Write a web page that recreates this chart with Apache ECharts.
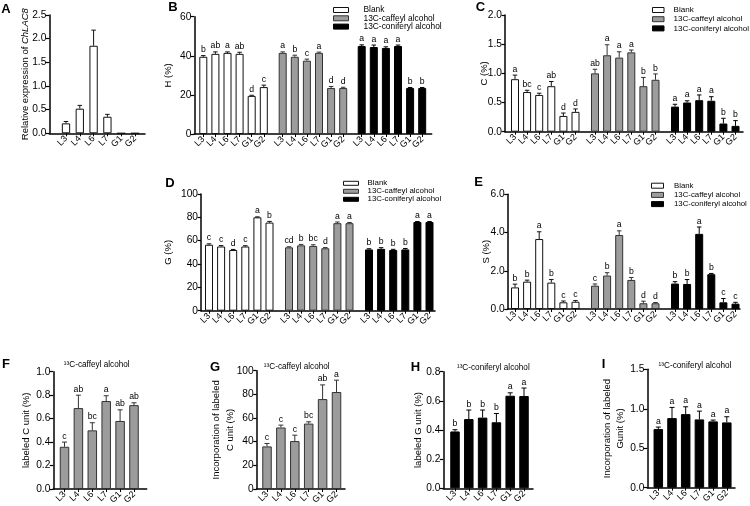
<!DOCTYPE html>
<html><head><meta charset="utf-8">
<script src="https://cdn.jsdelivr.net/npm/echarts@6/dist/echarts.min.js"></script>
<style>html,body{margin:0;padding:0;background:#fff}#c{width:750px;height:506px}</style>
</head><body><div id="c"></div>
<script>
// ---------------- data ----------------
const categories = ['L3','L4','L6','L7','G1','G2'];
const treatments = ['Blank','13C-caffeyl alcohol','13C-coniferyl alcohol'];

// A: relative expression of ChLAC8
const aTicks = ['0.0','0.5','1.0','1.5','2.0','2.5'];
const aMean = [0.21, 0.52, 1.85, 0.35, 0, 0];
const aErr  = [0.04, 0.07, 0.33, 0.05, 0, 0];
const aLetters = ['','','','','',''];

// B: H (%)
const bTicks = ['0','20','40','60'];
const bBlankMean = [39.5, 41, 41.5, 41, 19.5, 24];
const bBlankErr  = [0.6, 1.0, 0.5, 0.8, 0.3, 1.0];
const bBlankLet  = ['b','ab','a','ab','d','c'];
const bCafMean = [41.5, 39.5, 37.5, 41.5, 23.5, 23.5];
const bCafErr  = [0.5, 0.8, 0.8, 0.4, 0.8, 0.4];
const bCafLet  = ['a','b','c','a','d','d'];
const bConMean = [45, 44.5, 44, 45, 23.5, 23.5];
const bConErr  = [0.6, 1.0, 0.6, 0.5, 0.3, 0.3];
const bConLet  = ['a','a','a','a','b','b'];

// C: C (%)
const cTicks = ['0.0','0.5','1.0','1.5','2.0'];
const cBlankMean = [0.90, 0.68, 0.63, 0.78, 0.27, 0.34];
const cBlankErr  = [0.07, 0.03, 0.03, 0.08, 0.05, 0.05];
const cBlankLet  = ['a','bc','c','ab','d','d'];
const cCafMean = [1.00, 1.31, 1.27, 1.36, 0.78, 0.89];
const cCafErr  = [0.07, 0.18, 0.10, 0.04, 0.15, 0.10];
const cCafLet  = ['ab','a','a','a','b','b'];
const cConMean = [0.43, 0.50, 0.54, 0.53, 0.14, 0.10];
const cConErr  = [0.04, 0.03, 0.09, 0.07, 0.09, 0.09];
const cConLet  = ['a','a','a','a','b','b'];

// D: G (%)
const dTicks = ['0','20','40','60','80','100'];
const dBlankMean = [56.5, 55, 52, 55, 80, 75.5];
const dBlankErr  = [0.8, 0.8, 0.5, 0.7, 0.4, 1.0];
const dBlankLet  = ['c','c','d','c','a','b'];
const dCafMean = [54.3, 56, 55.5, 53.5, 75, 75];
const dCafErr  = [0.5, 0.8, 1.0, 0.6, 1.0, 0.6];
const dCafLet  = ['cd','b','bc','d','a','a'];
const dConMean = [52.5, 53, 52, 52.5, 76, 76];
const dConErr  = [0.6, 1.0, 0.6, 0.8, 0.4, 0.4];
const dConLet  = ['b','b','b','b','a','a'];

// E: S (%)
const eTicks = ['0.0','2.0','4.0','6.0'];
const eBlankMean = [1.13, 1.43, 3.66, 1.38, 0.35, 0.38];
const eBlankErr  = [0.17, 0.08, 0.38, 0.16, 0.07, 0.06];
const eBlankLet  = ['b','b','a','b','c','c'];
const eCafMean = [1.22, 1.75, 3.87, 1.52, 0.30, 0.30];
const eCafErr  = [0.09, 0.15, 0.22, 0.13, 0.11, 0.04];
const eCafLet  = ['c','b','a','b','d','d'];
const eConMean = [1.33, 1.31, 3.93, 1.82, 0.35, 0.28];
const eConErr  = [0.10, 0.23, 0.36, 0.04, 0.20, 0.07];
const eConLet  = ['b','b','a','b','c','c'];

// F: labeled C unit (%)
const fTicks = ['0.0','0.2','0.4','0.6','0.8','1.0'];
const fMean = [0.36, 0.69, 0.50, 0.75, 0.58, 0.715];
const fErr  = [0.04, 0.11, 0.065, 0.045, 0.095, 0.02];
const fLet  = ['c','ab','bc','a','ab','ab'];

// G: incorporation of labeled C unit (%)
const gTicks = ['0','20','40','60','80','100'];
const gMean = [36, 52, 40.5, 55.3, 76, 82];
const gErr  = [2.5, 2, 5, 1.5, 12, 10];
const gLet  = ['c','c','c','bc','ab','a'];

// H: labeled G unit (%)
const hTicks = ['0.0','0.2','0.4','0.6','0.8'];
const hMean = [0.39, 0.475, 0.485, 0.453, 0.635, 0.633];
const hErr  = [0.012, 0.062, 0.052, 0.06, 0.02, 0.055];
const hLet  = ['b','b','b','b','a','a'];

// I: incorporation of labeled G unit (%)
const iTicks = ['0.0','0.5','1.0','1.5'];
const iMean = [0.743, 0.882, 0.932, 0.865, 0.84, 0.827];
const iErr  = [0.025, 0.135, 0.093, 0.105, 0.017, 0.072];
const iLet  = ['a','a','a','a','a','a'];

// ---------------- styles ----------------
const FONT = "'Liberation Sans', Arial, Helvetica, sans-serif";
const STY = {
  white: {color:'#ffffff', border:'#111', bw:1, err:'#111'},
  gray:  {color:'#9c9c9c', border:'#333', bw:1, err:'#333'},
  black: {color:'#000000', border:'#000', bw:1, err:'#000'}
};

const grids=[], xAxes=[], yAxes=[], series=[];

function panel(cfg){
  const top = cfg.top, h = cfg.zero - cfg.top;
  const ticks = cfg.ticks;
  const ymin = +ticks[0], ymax = +ticks[ticks.length-1], step = ticks[1]-ticks[0];
  const gi = grids.length;
  const lh = cfg.nameLH || 9.5;
  grids.push({left: cfg.axisX, top: top, width: cfg.xEnd - cfg.axisX, height: h,
    containLabel:false, outerBoundsMode:'none'});
  xAxes.push({gridIndex: gi, type:'value', min:0, max:1,
    axisLine:{show:true, lineStyle:{color:'#000', width:1.5}},
    axisTick:{show:false}, axisLabel:{show:false}, splitLine:{show:false}});
  yAxes.push({gridIndex: gi, type:'value', min:ymin, max:ymax, interval:step,
    axisLine:{show:true, lineStyle:{color:'#000', width:1.5}},
    axisTick:{show:true, length:3.5, lineStyle:{color:'#000', width:1.2}},
    axisLabel:{color:'#000', fontSize:10.2, fontFamily:FONT, margin:3,
      formatter: v => ticks[Math.round((v-ymin)/step)]},
    splitLine:{show:false},
    name: cfg.name, nameLocation:'middle', nameRotate:90, nameGap: cfg.nameGap,
    nameMoveOverlap:false,
    nameTextStyle:{color:'#000', fontSize:9.5, fontFamily:FONT, lineHeight:lh,
      rich:{i:{fontStyle:'italic', fontSize:9.5, fontFamily:FONT, color:'#000', lineHeight:lh}}}});
  cfg.groups.forEach(g => {
    const k = grids.length;
    const st = STY[g.style];
    grids.push({left: g.left, top: top, width: cfg.band*6, height: h,
      containLabel:false, outerBoundsMode:'none'});
    xAxes.push({gridIndex:k, type:'category', data: categories,
      axisLine:{show:false},
      axisTick:{show:true, alignWithLabel:true, length:3, lineStyle:{color:'#000', width:1}},
      axisLabel:{interval:0, rotate:45, fontSize:9, margin:4, color:'#000', fontFamily:FONT},
      splitLine:{show:false}});
    yAxes.push({gridIndex:k, type:'value', min:ymin, max:ymax, show:false});
    series.push({type:'bar', name:g.name, xAxisIndex:k, yAxisIndex:k, data:g.mean,
      barWidth: cfg.barWidth, silent:true,
      itemStyle:{color:st.color, borderColor:st.border, borderWidth:st.bw}});
    series.push({type:'custom', xAxisIndex:k, yAxisIndex:k, silent:true, clip:false, z:5,
      data: g.mean.map((m,i)=>[i, m, g.err[i]]),
      renderItem: (params, api) => {
        const i = api.value(0), m = api.value(1), e = api.value(2);
        const p0 = api.coord([i, m]), p1 = api.coord([i, m+e]);
        const cw = cfg.cap;
        const ch = [];
        if (m > 0) {
          ch.push({type:'line', shape:{x1:p0[0], y1:p0[1], x2:p1[0], y2:p1[1]}, style:{stroke:st.err, lineWidth:1}});
          ch.push({type:'line', shape:{x1:p1[0]-cw/2, y1:p1[1], x2:p1[0]+cw/2, y2:p1[1]}, style:{stroke:st.err, lineWidth:1}});
        }
        const letter = g.letters[params.dataIndex];
        if (letter) ch.push({type:'text', x:p1[0], y:p1[1]-1.3,
          style:{text:letter, fontSize:8.7, fontFamily:FONT, fill:'#000',
            align:'center', verticalAlign:'bottom', textAlign:'center', textVerticalAlign:'bottom'}});
        return {type:'group', children:ch};
      }});
  });
}

panel({axisX:49.3, top:15, zero:133.3, xEnd:145, ticks:aTicks, name:'Relative expression of {i|ChLAC8}', nameGap:19.5,
  band:13.8, barWidth:8.3, cap:4.5,
  groups:[{left:59.1, mean:aMean, err:aErr, letters:aLetters, style:'white', name:'A'}]});
panel({axisX:194.3, top:16.7, zero:134, xEnd:431.7, ticks:bTicks, name:'H (%)', nameGap:21.5,
  band:12.1, barWidth:8, cap:4.5,
  groups:[{left:197.25, mean:bBlankMean, err:bBlankErr, letters:bBlankLet, style:'white', name:treatments[0]},
          {left:276.65, mean:bCafMean, err:bCafErr, letters:bCafLet, style:'gray', name:treatments[1]},
          {left:355.65, mean:bConMean, err:bConErr, letters:bConLet, style:'black', name:treatments[2]}]});
panel({axisX:505, top:15, zero:131.7, xEnd:743, ticks:cTicks, name:'C (%)', nameGap:15.5,
  band:12.1, barWidth:8, cap:4.5,
  groups:[{left:508.95, mean:cBlankMean, err:cBlankErr, letters:cBlankLet, style:'white', name:treatments[0]},
          {left:588.95, mean:cCafMean, err:cCafErr, letters:cCafLet, style:'gray', name:treatments[1]},
          {left:668.95, mean:cConMean, err:cConErr, letters:cConLet, style:'black', name:treatments[2]}]});
panel({axisX:201, top:194, zero:310.7, xEnd:435, ticks:dTicks, name:'G (%)', nameGap:28,
  band:12.1, barWidth:8, cap:4.5,
  groups:[{left:202.95, mean:dBlankMean, err:dBlankErr, letters:dBlankLet, style:'white', name:treatments[0]},
          {left:282.95, mean:dCafMean, err:dCafErr, letters:dCafLet, style:'gray', name:treatments[1]},
          {left:362.95, mean:dConMean, err:dConErr, letters:dConLet, style:'black', name:treatments[2]}]});
panel({axisX:507.7, top:194.3, zero:309, xEnd:740, ticks:eTicks, name:'S (%)', nameGap:16.5,
  band:12.1, barWidth:8, cap:4.5,
  groups:[{left:508.95, mean:eBlankMean, err:eBlankErr, letters:eBlankLet, style:'white', name:treatments[0]},
          {left:588.95, mean:eCafMean, err:eCafErr, letters:eCafLet, style:'gray', name:treatments[1]},
          {left:668.95, mean:eConMean, err:eConErr, letters:eConLet, style:'black', name:treatments[2]}]});
panel({axisX:53.3, top:371.7, zero:489, xEnd:146.7, ticks:fTicks, name:'labeled C unit (%)', nameGap:22,
  band:13.9, barWidth:9.5, cap:5,
  groups:[{left:57.55, mean:fMean, err:fErr, letters:fLet, style:'gray', name:'F'}]});
panel({axisX:256.7, top:370.7, zero:489, xEnd:345, ticks:gTicks, name:'Incorporation of labeled\nC unit (%)', nameGap:20, nameLH:13.3,
  band:13.9, barWidth:9.5, cap:5,
  groups:[{left:260.05, mean:gMean, err:gErr, letters:gLet, style:'gray', name:'G'}]});
panel({axisX:443.3, top:371.7, zero:488.3, xEnd:533, ticks:hTicks, name:'labeled G unit (%)', nameGap:20.3,
  band:13.8, barWidth:9.5, cap:5,
  groups:[{left:448.1, mean:hMean, err:hErr, letters:hLet, style:'black', name:'H'}]});
panel({axisX:647.3, top:369.3, zero:487.7, xEnd:735, ticks:iTicks, name:'Incorporation of labeled\nGunit (%)', nameGap:20.3, nameLH:13.3,
  band:13.7, barWidth:9.5, cap:5,
  groups:[{left:651.45, mean:iMean, err:iErr, letters:iLet, style:'black', name:'I'}]});

function legend(left, top, pitch, iw, ih, pad, fs){
  return {left:left, top:top, orient:'vertical', padding:0, itemGap:0, itemWidth:iw, itemHeight:ih,
    icon:'rect', selectedMode:false,
    textStyle:{fontSize:fs, fontFamily:FONT, color:'#000', lineHeight:pitch, padding:[0,0,0,pad]},
    data: treatments.map((n,i)=>{ const st = STY[['white','gray','black'][i]];
      return {name:n, itemStyle:{color:st.color, borderColor:st.border, borderWidth:1}}; })};
}
const legends = [
  legend(333, 5.85, 8.3, 15, 5, 10, 8.4),
  legend(652, 5.4, 9.2, 11.5, 5, 4.5, 8.1),
  legend(343, 179.3, 6.1, 15, 4, 4, 7.9),
  legend(651, 181.1, 9.2, 12, 5, 5.5, 7.8)
];

const panelLetters = [['A',6,9],['B',173,7.5],['C',480.5,7.5],['D',170,183],['E',478.5,182],
  ['F',6,364],['G',215,367],['H',415.5,367.5],['I',603.5,364]];
const subTitles = [['¹³C-caffeyl alcohol',96.7,364.3],['¹³C-caffeyl alcohol',296.7,366.7],
  ['¹³C-coniferyl alcohol',493.3,367.3],['¹³C-coniferyl alcohol',695,365.7]];
const graphics = panelLetters.map(p=>({type:'text', x:p[1], y:p[2], silent:true,
  style:{text:p[0], fontSize:13, fontWeight:'bold', fontFamily:FONT, fill:'#000',
    align:'center', verticalAlign:'middle', textAlign:'center', textVerticalAlign:'middle'}}))
  .concat(subTitles.map(p=>({type:'text', x:p[1], y:p[2], silent:true,
  style:{text:p[0], fontSize:8.2, fontFamily:FONT, fill:'#000',
    align:'center', verticalAlign:'middle', textAlign:'center', textVerticalAlign:'middle'}})));

const chart = echarts.init(document.getElementById('c'), null, {renderer:'canvas'});
chart.setOption({
  animation:false, backgroundColor:'#fff',
  grid:grids, xAxis:xAxes, yAxis:yAxes, series:series, legend:legends, graphic:graphics
});
</script></body></html>
